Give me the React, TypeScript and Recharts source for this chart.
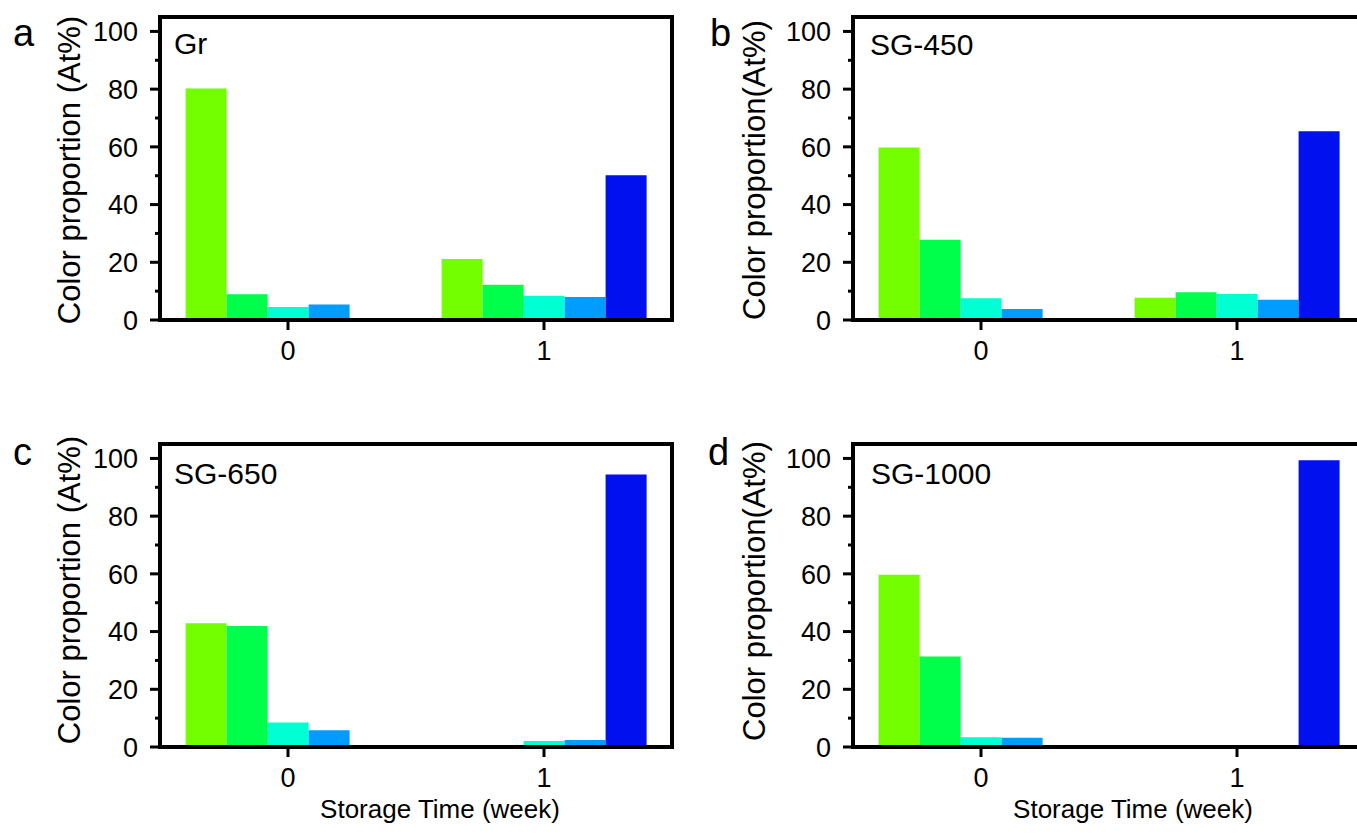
import React from "react";
import { BarChart, Bar, XAxis, YAxis, ReferenceArea } from "recharts";

const FONT = '"Liberation Sans", Arial, Helvetica, sans-serif';

// storage time categories (week)
const weeks = ["0", "1"];
// five colour classes, drawn left to right in each group
const colorKeys = ["lime", "green", "cyan", "sky", "blue"];
const COLORS = ["#73FF00", "#00FF4A", "#00FFD2", "#009CFF", "#0010EE"];
const yTicks = [0, 10, 20, 30, 40, 50, 60, 70, 80, 90, 100];

// color proportion (At%) per colour class
const grWeek0 = [80.2, 8.9, 4.5, 5.4, 0];
const grWeek1 = [21.1, 12.2, 8.4, 8.0, 50.2];
const sg450Week0 = [59.8, 27.8, 7.5, 3.8, 0];
const sg450Week1 = [7.7, 9.6, 9.0, 7.0, 65.4];
const sg650Week0 = [42.9, 41.9, 8.5, 5.8, 0.5];
const sg650Week1 = [0, 0.3, 2.1, 2.4, 94.4];
const sg1000Week0 = [59.7, 31.4, 3.4, 3.2, 0.4];
const sg1000Week1 = [0, 0, 0, 0, 99.4];

const toRows = (w0: number[], w1: number[]) =>
  weeks.map((week, i) => {
    const vals = i === 0 ? w0 : w1;
    const row: any = { week };
    colorKeys.forEach((k, j) => (row[k] = vals[j]));
    return row;
  });

const TICK_SIZE = 10;
const TICK_MARGIN = 12;

const YTick = ({ x, y, payload }: any) => {
  const major = payload.value % 20 === 0;
  const ax = x + TICK_SIZE + TICK_MARGIN;
  return (
    <g>
      <line
        x1={ax}
        x2={ax - (major ? 10 : 5)}
        y1={y}
        y2={y}
        stroke="#000"
        strokeWidth={3}
      />
      {major && (
        <text
          x={x}
          y={y}
          dy="0.36em"
          textAnchor="end"
          fontSize={27}
          fontFamily={FONT}
          fill="#000"
        >
          {payload.value}
        </text>
      )}
    </g>
  );
};

type PanelProps = {
  left: number;
  top: number;
  height: number;
  letter: string;
  name: string;
  yTitle: string;
  yTitleX: number;
  yTitleY: number;
  letterX: number;
  letterY: number;
  nameX: number;
  nameY: number;
  week0: number[];
  week1: number[];
  xTitle?: boolean;
  xTitleX?: number;
  xTitleY?: number;
};

function Panel(p: PanelProps) {
  const data = toRows(p.week0, p.week1);
  const xAxisHeight = p.height - 17 - 303;
  return (
    <div style={{ position: "absolute", left: p.left, top: p.top }}>
      <BarChart
        width={680}
        height={p.height}
        data={data}
        margin={{ top: 17, right: 8, bottom: 0, left: 0 }}
        barCategoryGap="10%"
        barGap={0}
      >
        <XAxis
          dataKey="week"
          height={xAxisHeight}
          tickSize={TICK_SIZE}
          tickMargin={11}
          axisLine={{ stroke: "#000", strokeWidth: 4 }}
          tickLine={{ stroke: "#000", strokeWidth: 3 }}
          tick={{ fill: "#000", fontSize: 27, fontFamily: FONT }}
          label={
            p.xTitle
              ? () => (
                  <text
                    x={p.xTitleX}
                    y={p.xTitleY}
                    textAnchor="middle"
                    fontSize={26}
                    fontFamily={FONT}
                    fill="#000"
                  >
                    Storage Time (week)
                  </text>
                )
              : undefined
          }
        />
        <YAxis
          width={160}
          domain={[0, 105]}
          ticks={yTicks}
          interval={0}
          tickSize={TICK_SIZE}
          tickMargin={TICK_MARGIN}
          tickLine={false}
          axisLine={{ stroke: "#000", strokeWidth: 4 }}
          tick={<YTick />}
          label={() => (
            <g>
              <text
                x={p.letterX}
                y={p.letterY}
                fontSize={38}
                fontFamily={FONT}
                fill="#000"
              >
                {p.letter}
              </text>
              <text
                x={p.yTitleX}
                y={p.yTitleY}
                transform={`rotate(-90 ${p.yTitleX} ${p.yTitleY})`}
                textAnchor="middle"
                fontSize={31}
                fontFamily={FONT}
                fill="#000"
              >
                {p.yTitle}
              </text>
            </g>
          )}
        />
        {colorKeys.map((k, i) => (
          <Bar
            key={k}
            dataKey={k}
            fill={COLORS[i]}
            isAnimationActive={false}
          />
        ))}
        <ReferenceArea
          y1={0}
          y2={105}
          fill="none"
          stroke="#000"
          strokeWidth={4}
          ifOverflow="visible"
          label={() => (
            <text
              x={p.nameX}
              y={p.nameY}
              fontSize={30}
              fontFamily={FONT}
              fill="#000"
            >
              {p.name}
            </text>
          )}
        />
      </BarChart>
    </div>
  );
}

export default function App() {
  return (
    <div
      style={{
        position: "absolute",
        left: 0,
        top: 0,
        width: 1357,
        height: 833,
        overflow: "hidden",
        background: "#fff",
      }}
    >
      <Panel
        left={0}
        top={0}
        height={400}
        letter="a"
        letterX={13}
        letterY={46}
        name="Gr"
        nameX={174}
        nameY={54}
        yTitle="Color proportion (At%)"
        yTitleX={80}
        yTitleY={170}
        week0={grWeek0}
        week1={grWeek1}
      />
      <Panel
        left={693}
        top={0}
        height={400}
        letter="b"
        letterX={17}
        letterY={46}
        name="SG-450"
        nameX={177}
        nameY={55}
        yTitle="Color proportion(At%)"
        yTitleX={72}
        yTitleY={170}
        week0={sg450Week0}
        week1={sg450Week1}
      />
      <Panel
        left={0}
        top={427}
        height={406}
        letter="c"
        letterX={13}
        letterY={38}
        name="SG-650"
        nameX={174}
        nameY={57}
        yTitle="Color proportion (At%)"
        yTitleX={80}
        yTitleY={163}
        week0={sg650Week0}
        week1={sg650Week1}
        xTitle
        xTitleX={440}
        xTitleY={391}
      />
      <Panel
        left={693}
        top={427}
        height={406}
        letter="d"
        letterX={15}
        letterY={38}
        name="SG-1000"
        nameX={178}
        nameY={57}
        yTitle="Color proportion(At%)"
        yTitleX={72}
        yTitleY={164}
        week0={sg1000Week0}
        week1={sg1000Week1}
        xTitle
        xTitleX={440}
        xTitleY={391}
      />
    </div>
  );
}
